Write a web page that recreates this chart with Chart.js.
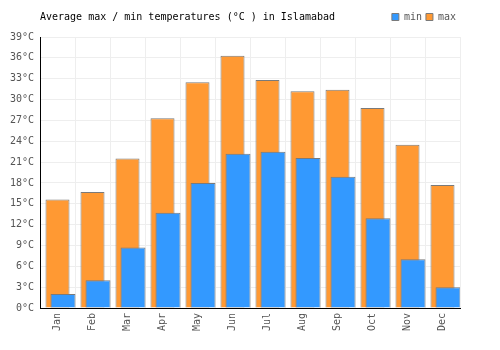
<!DOCTYPE html>
<html>
<head>
<meta charset="utf-8">
<script src="https://cdn.jsdelivr.net/npm/chart.js@4"></script>
<style>
  html, body { margin: 0; padding: 0; background: #fff; }
  #wrap { position: relative; width: 500px; height: 350px; }
  #title {
    position: absolute; left: 40px; top: 11px;
    font: 10px "DejaVu Sans Mono", monospace; color: #000; line-height: 12px;
  }
</style>
</head>
<body>
<div id="wrap">
  <canvas id="chart" width="500" height="350"></canvas>
  <div id="title">Average max / min temperatures (°C ) in Islamabad</div>
</div>
<script>
// ===== Data =====
const months = ["Jan", "Feb", "Mar", "Apr", "May", "Jun", "Jul", "Aug", "Sep", "Oct", "Nov", "Dec"];
const minTemps = [2.0, 4.0, 8.7, 13.7, 18.0, 22.2, 22.5, 21.6, 18.9, 12.9, 7.0, 3.0];
const maxTemps = [15.6, 16.7, 21.5, 27.3, 32.5, 36.3, 32.8, 31.2, 31.4, 28.8, 23.5, 17.7];
const yTicks = [0, 3, 6, 9, 12, 15, 18, 21, 24, 27, 30, 33, 36, 39];

const mono = "'DejaVu Sans Mono', monospace";

// adds a little room under the legend without moving the legend itself
const legendGap = {
  id: "legendGap",
  beforeUpdate(chart) {
    const lg = chart.legend;
    if (lg && !lg._gapped) {
      const fit = lg.fit;
      lg.fit = function () { fit.call(this); this.height += 5; };
      lg._gapped = true;
    }
  }
};

// ===== Chart =====
const chart = new Chart(document.getElementById("chart"), {
  type: "bar",
  data: {
    labels: months,
    datasets: [
      // min bar sits in the right half of a two-slot group (slot 0 is an empty spacer)
      { label: "min", data: minTemps, order: 1, backgroundColor: "#3399ff", borderColor: "#7a7a7a",
        borderWidth: 1, categoryPercentage: 0.629, barPercentage: 2.27 },
      // max bar is centred on the month, drawn behind
      { label: "max", data: maxTemps, order: 2, grouped: false, backgroundColor: "#ff9933", borderColor: "#7a7a7a",
        borderWidth: 1, categoryPercentage: 1, barPercentage: 0.686 },
      { label: "spacer", data: [], order: 0 }
    ]
  },
  plugins: [legendGap],
  options: {
    responsive: false,
    animation: false,
    layout: { padding: { top: 8, right: 40, left: 0, bottom: 0 } },
    plugins: {
      title: { display: false },
      tooltip: { enabled: false },
      legend: {
        position: "top",
        align: "end",
        labels: {
          filter: item => item.text !== "spacer",
          boxWidth: 7, boxHeight: 7, padding: 4,
          color: "#555",
          font: { family: mono, size: 10 }
        }
      }
    },
    scales: {
      x: {
        grid: { color: "#eeeeee", drawTicks: false, offset: true },
        border: { color: "#000", width: 1 },
        ticks: { color: "#555", font: { family: mono, size: 10 }, minRotation: 90, maxRotation: 90, padding: 5 },
        afterFit: s => { s.height = 42; }
      },
      y: {
        min: 0, max: 39,
        afterBuildTicks: s => { s.ticks = yTicks.map(v => ({ value: v })); },
        grid: { color: "#eeeeee", drawTicks: false },
        border: { color: "#000", width: 1 },
        ticks: { color: "#555", font: { family: mono, size: 10 }, padding: 6, callback: v => v + "°C" },
        afterFit: s => { s.width = 40; }
      }
    }
  }
});
</script>
</body>
</html>
